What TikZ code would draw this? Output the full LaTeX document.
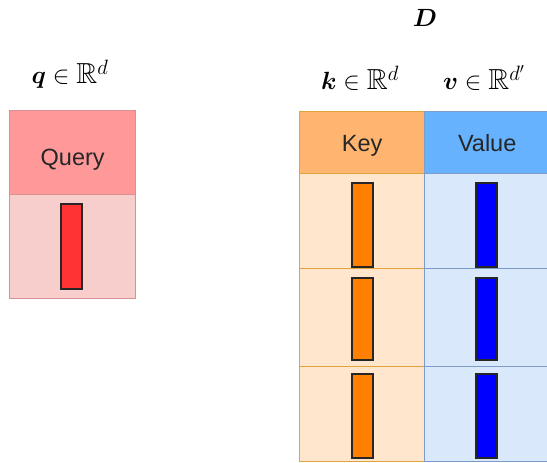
\documentclass[tikz,border=0pt]{standalone}
\usepackage{fontspec}
\setsansfont{Liberation Sans}
\usepackage{amssymb}
\usepackage{bm}
\definecolor{qhead}{HTML}{FF9999}
\definecolor{qbody}{HTML}{F8CECC}
\definecolor{qline}{HTML}{D99090}
\definecolor{khead}{HTML}{FFB570}
\definecolor{kbody}{HTML}{FFE6CC}
\definecolor{kline}{HTML}{E0A53A}
\definecolor{vhead}{HTML}{66B2FF}
\definecolor{vbody}{HTML}{DAE8FC}
\definecolor{vline}{HTML}{7F9CC8}
\definecolor{qbar}{HTML}{FF3333}
\definecolor{kbar}{HTML}{FF8000}
\definecolor{vbar}{HTML}{0000FF}
% header text placed with its baseline a fixed distance below the cell centre
\newcommand{\headtext}[2]{\raisebox{-#1}[0pt][0pt]{#2}}
\tikzset{
  cell/.style={draw, line width=1.4pt, anchor=north west, inner sep=0pt,
    font=\sffamily\fontsize{23.5}{27}\selectfont, text=black!85},
  bar/.style={draw=black!85, line width=2pt, anchor=north west, inner sep=0pt,
    minimum width=21pt},
  lbl/.style={font=\fontsize{29}{33}\selectfont, inner sep=0pt}
}
\begin{document}
\begin{tikzpicture}[x=1pt,y=-1pt]
\useasboundingbox (0,0) rectangle (547,463);
% query block
\node[cell, draw=qline, fill=qhead, minimum width=126pt, minimum height=84pt] (qh) at (9,110) {\headtext{12.5pt}{Query}};
\node[cell, draw=qline, fill=qbody, minimum width=126pt, minimum height=104pt] (qb) at (9,194) {};
\node[bar, fill=qbar, minimum height=85pt] (qv) at (60,203) {};
\node[lbl] (ql) at (70,74) {$\bm{q}\in\mathbb{R}^{d}$};
% key / value table
\node[lbl] (dl) at (425,18) {$\bm{D}$};
\node[lbl] (kl) at (360,78) {$\bm{k}\in\mathbb{R}^{d}$};
\node[lbl] (vl) at (484,78) {$\bm{v}\in\mathbb{R}^{d'}$};
\node[cell, draw=kline, fill=khead, minimum width=125pt, minimum height=62pt] (kh) at (299,111) {\headtext{9pt}{Key}};
\node[cell, draw=vline, fill=vhead, minimum width=125pt, minimum height=62pt] (vh) at (424,111) {\headtext{9pt}{Value}};
\foreach \i/\y/\h/\by/\bh in {1/173/95/182/84, 2/268/98/277/82, 3/366/95/373/84}{
  \node[cell, draw=kline, fill=kbody, minimum width=125pt, minimum height=\h pt] (k\i) at (299,\y) {};
  \node[cell, draw=vline, fill=vbody, minimum width=125pt, minimum height=\h pt] (v\i) at (424,\y) {};
  \node[bar, fill=kbar, minimum height=\bh pt] (kb\i) at (351,\by) {};
  \node[bar, fill=vbar, minimum height=\bh pt] (vb\i) at (475,\by) {};
}
\end{tikzpicture}
\end{document}
